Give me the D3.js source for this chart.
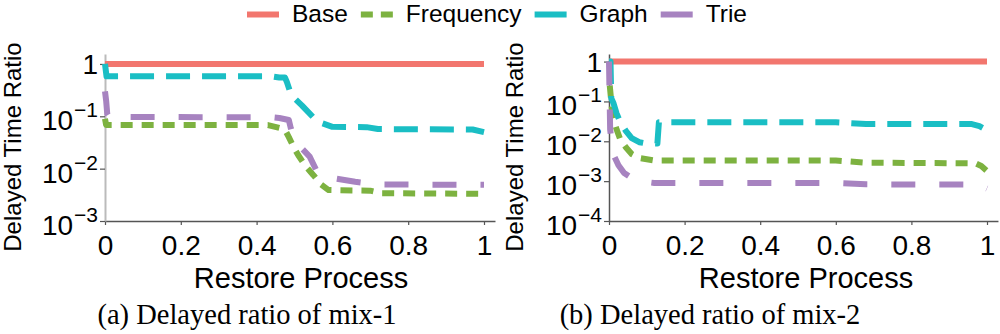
<!DOCTYPE html>
<html><head><meta charset="utf-8">
<script src="https://cdn.jsdelivr.net/npm/d3@7"></script>
<style>body{margin:0;background:#fff}svg{display:block}text{font-family:"Liberation Sans",Arial,sans-serif}</style>
</head><body><svg id="c" width="1000" height="334"></svg>
<script>
// ---- data ----
const seriesNames = ["Base","Frequency","Graph","Trie"];
const xTicks = [0,0.2,0.4,0.6,0.8,1];
const xTickLabels = ["0","0.2","0.4","0.6","0.8","1"];
const yTicksMix1 = [1,0.1,0.01,0.001];
const yTicksMix2 = [1,0.1,0.01,0.001,0.0001];
const captions = ["(a) Delayed ratio of mix-1","(b) Delayed ratio of mix-2"];

const mix1Base = [[0,1],[1,1]];
const mix1Frequency = [[0,0.09],[0.003,0.068],[0.43,0.068],[0.46,0.06],[0.475,0.055],[0.485,0.04],[0.5,0.024],[0.51,0.018],[0.53,0.011],[0.55,0.0075],[0.57,0.005],[0.59,0.0039],[0.7,0.0038],[0.73,0.0034],[1,0.0033]];
const mix1Graph = [[0,1],[0.004,0.58],[0.44,0.58],[0.46,0.55],[0.475,0.55],[0.48,0.45],[0.488,0.3],[0.5,0.22],[0.52,0.16],[0.55,0.095],[0.57,0.075],[0.6,0.063],[0.69,0.062],[0.72,0.057],[0.97,0.056],[1,0.05]];
const mix1Trie = [[0,0.3],[0.003,0.2],[0.006,0.11],[0.01,0.097],[0.44,0.096],[0.46,0.093],[0.485,0.085],[0.49,0.06],[0.5,0.034],[0.52,0.024],[0.54,0.017],[0.56,0.0086],[0.6,0.0066],[0.66,0.0056],[0.72,0.005],[1,0.0049]];

const mix2Base = [[0,1],[1,1]];
const mix2Frequency = [[0.002,0.25],[0.006,0.1],[0.01,0.04],[0.02,0.02],[0.03,0.011],[0.045,0.007],[0.06,0.0048],[0.08,0.0038],[0.12,0.0033],[0.6,0.0033],[0.68,0.0029],[0.97,0.0028],[0.985,0.0024],[1,0.0018]];
const mix2Graph = [[0,1],[0.004,1],[0.006,0.12],[0.012,0.09],[0.02,0.05],[0.03,0.03],[0.045,0.018],[0.06,0.012],[0.08,0.0095],[0.1,0.0088],[0.128,0.0088],[0.132,0.03],[0.6,0.03],[0.68,0.027],[0.96,0.027],[0.98,0.024],[1,0.019]];
const mix2Trie = [[0,1],[0.003,0.02],[0.008,0.008],[0.015,0.004],[0.025,0.0025],[0.04,0.0016],[0.06,0.0012],[0.08,0.001],[0.12,0.0009],[0.6,0.0009],[0.68,0.00083],[0.97,0.00082],[0.985,0.00075],[1,0.00065]];

// ---- styles ----
const colors = {Base:"#F2766E",Frequency:"#7DB240",Graph:"#1ABEC4",Trie:"#A783C0"};
const dashes = {Base:null,Frequency:"12,9",Graph:"24,12",Trie:"24,24"};
const superDigits = {"1":"0","0.1":"−1","0.01":"−2","0.001":"−3","0.0001":"−4"};

const svg = d3.select("#c");

function panel(cfg){
  const x = d3.scaleLinear().domain([0,1.029]).range([cfg.x0, cfg.x0 + 1.029*cfg.w]);
  const y = d3.scaleLog().domain([cfg.ymin, Math.pow(10,0.19)]).range([221,54]);
  const g = svg.append("g");
  const xa = g.append("g").attr("transform","translate(0,221)")
    .call(d3.axisBottom(x).tickValues(xTicks).tickFormat((d,i)=>xTickLabels[i]).tickSize(4).tickSizeOuter(0));
  xa.select(".domain").attr("stroke","#555").attr("stroke-width",1.5);
  xa.selectAll(".tick line").attr("stroke","#555").attr("stroke-width",1.2);
  xa.selectAll(".tick text").attr("font-size",28).attr("y",null).attr("dy",null).attr("transform","translate(0,34)").attr("fill","#000");
  const ya = g.append("g").attr("transform",`translate(${cfg.x0},0)`)
    .call(d3.axisLeft(y).tickValues(cfg.yTicks).tickFormat("").tickSize(5).tickSizeOuter(0));
  ya.select(".domain").attr("stroke",cfg.yAxisColor).attr("stroke-width",cfg.yAxisW);
  ya.selectAll(".tick line").attr("stroke","#555").attr("stroke-width",1.2);
  cfg.yTicks.forEach(v=>{
    const t = g.append("text").attr("text-anchor","end").attr("fill","#000").attr("x",cfg.x0-7);
    if(v===1){
      t.attr("y",y(v)+10).attr("font-size",28).text("1");
    } else {
      t.attr("y",y(v)+14);
      t.append("tspan").attr("font-size",28).text("10");
      t.append("tspan").attr("font-size",21).attr("dy",-13).attr("dx",1).text(superDigits[String(v)]);
    }
  });
  const line = d3.line().x(d=>x(d[0])).y(d=>y(d[1]));
  cfg.data.forEach((d,i)=>{
    const n = seriesNames[i];
    g.append("path").datum(d).attr("d",line).attr("fill","none")
      .attr("stroke",colors[n]).attr("stroke-width",6)
      .attr("stroke-dasharray",dashes[n]).attr("stroke-linecap","butt").attr("stroke-linejoin","round");
  });
  g.append("text").attr("x",cfg.xt).attr("y",288).attr("text-anchor","middle").attr("font-size",29).text("Restore Process");
  g.append("text").attr("transform",`translate(${cfg.yt},147) rotate(-90)`).attr("text-anchor","middle").attr("font-size",24).text("Delayed Time Ratio");
  g.append("text").attr("x",cfg.xc).attr("y",324).attr("text-anchor","middle")
    .style("font-family","'Liberation Serif','Times New Roman',serif").attr("font-size",28.5).text(cfg.caption);
}

panel({x0:105,w:379,ymin:0.001,yTicks:yTicksMix1,yAxisColor:"#bbb",yAxisW:2,
  data:[mix1Base,mix1Frequency,mix1Graph,mix1Trie],xt:301,yt:21,xc:247,caption:captions[0]});
panel({x0:609,w:378,ymin:0.0001,yTicks:yTicksMix2,yAxisColor:"#555",yAxisW:1.5,
  data:[mix2Base,mix2Frequency,mix2Graph,mix2Trie],xt:806,yt:523,xc:710,caption:captions[1]});

// legend
const lg = svg.append("g");
let lx = 247;
seriesNames.forEach(n=>{
  lg.append("line").attr("x1",lx).attr("x2",lx+32).attr("y1",14.5).attr("y2",14.5)
    .attr("stroke",colors[n]).attr("stroke-width",6).attr("stroke-dasharray",n==="Frequency"?"12,8":null);
  const t = lg.append("text").attr("x",lx+45).attr("y",22).attr("font-size",24.5).text(n);
  lx = lx + 45 + t.node().getComputedTextLength() + 13;
});
</script></body></html>
